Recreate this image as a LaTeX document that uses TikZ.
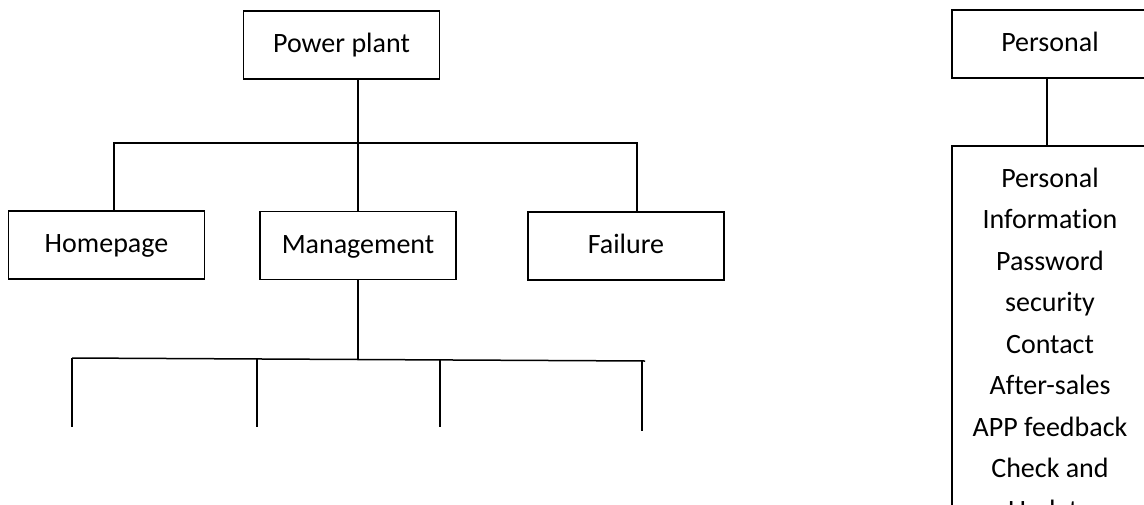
\documentclass[tikz,border=0pt]{standalone}
\usepackage{fontspec}
\setmainfont{Carlito}[Ligatures=NoCommon]
\begin{document}
\begin{tikzpicture}[x=1pt,y=-1pt,
  line width=1.5pt,
  box/.style={draw, line width=1.5pt, minimum width=196pt, minimum height=68pt, inner sep=0pt,
    text height=21pt, text depth=6pt,
    font={\fontsize{28}{33}\selectfont}},
  listbox/.style={draw, line width=1.5pt, minimum width=196pt, anchor=north, inner xsep=0pt, inner ysep=22pt,
    align=center, font={\fontsize{28}{41.5}\selectfont}},
  conn/.style={line width=1.5pt}]
\useasboundingbox (0,0) rectangle (1144,504);
\clip (0,0) rectangle (1144,504);
% left tree
\node[box] (pp) at (341.5,45) {Power plant};
\node[box] (home) at (106.5,245) {Homepage};
\node[box] (mgmt) at (358,245.5) {Management};
\node[box] (fail) at (626,246) {Failure};
\coordinate (bar) at (357,143);
\draw[conn] (pp.south -| mgmt.north) -- (mgmt.north);
\draw[conn] ([xshift=7.5pt]home.north) |- (bar) -| ([xshift=11pt]fail.north);
% bottom bar
\coordinate (b1) at (72,358);
\coordinate (b2) at (257,359);
\coordinate (b3) at (440,360);
\coordinate (b4) at (642,361);
\coordinate (bend) at (645,361);
\coordinate (mj) at (358,359.5);
\coordinate (e1) at (72,427);
\coordinate (e2) at (257,427);
\coordinate (e3) at (440,427);
\coordinate (e4) at (642,431);
\draw[conn] (mgmt.south) -- (mj);
\draw[conn] (b1) -- (bend);
\draw[conn] (b1) -- (e1);
\draw[conn] (b2) -- (e2);
\draw[conn] (b3) -- (e3);
\draw[conn] (b4) -- (e4);
% right column
\node[box] (pers) at (1050,44) {Personal};
\node[listbox] (plist) at (1050,145) {Personal\\Information\\Password\\security\\Contact\\After-sales\\APP feedback\\Check and\\Update};
\draw[conn] ([xshift=-3pt]pers.south) -- ([xshift=-3pt]plist.north);
\end{tikzpicture}
\end{document}
